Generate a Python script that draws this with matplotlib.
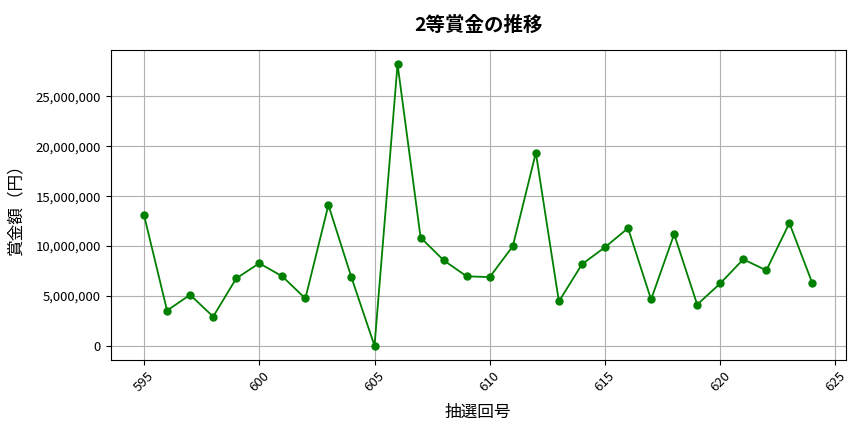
import matplotlib
matplotlib.use('Agg')
import matplotlib.pyplot as plt
from matplotlib.ticker import FuncFormatter

plt.rcParams['font.family'] = ['Noto Sans CJK JP', 'DejaVu Sans']

# draw numbers and 2nd prize amounts (yen)
draws = list(range(595, 625))
prize = [13100000, 3530000, 5110000, 2920000, 6750000, 8270000, 6960000, 4740000,
         14110000, 6850000, 0, 28230000, 10850000, 8570000, 6960000, 6890000,
         9980000, 19350000, 4440000, 8170000, 9880000, 11790000, 4640000, 11190000,
         4130000, 6250000, 8670000, 7560000, 12300000, 6250000]

fig, ax = plt.subplots(figsize=(8.64, 4.32), dpi=100)
ax.plot(draws, prize, marker='o', color='green', markersize=5, linewidth=1.3)

ax.set_title('2等賞金の推移', fontsize=14, fontweight='bold', pad=14)
ax.set_xlabel('抽選回号', fontsize=12, labelpad=7)
ax.set_ylabel('賞金額（円）', fontsize=12, labelpad=8)
ax.yaxis.set_major_formatter(FuncFormatter(lambda v, p: f'{int(v):,}'))
ax.tick_params(axis='both', labelsize=9.5)
plt.setp(ax.get_xticklabels(), rotation=45)
ax.grid(True, color='#b0b0b0', linewidth=0.8)

plt.subplots_adjust(left=0.128, right=0.979, top=0.884, bottom=0.167)
plt.savefig('out.png', dpi=100)
